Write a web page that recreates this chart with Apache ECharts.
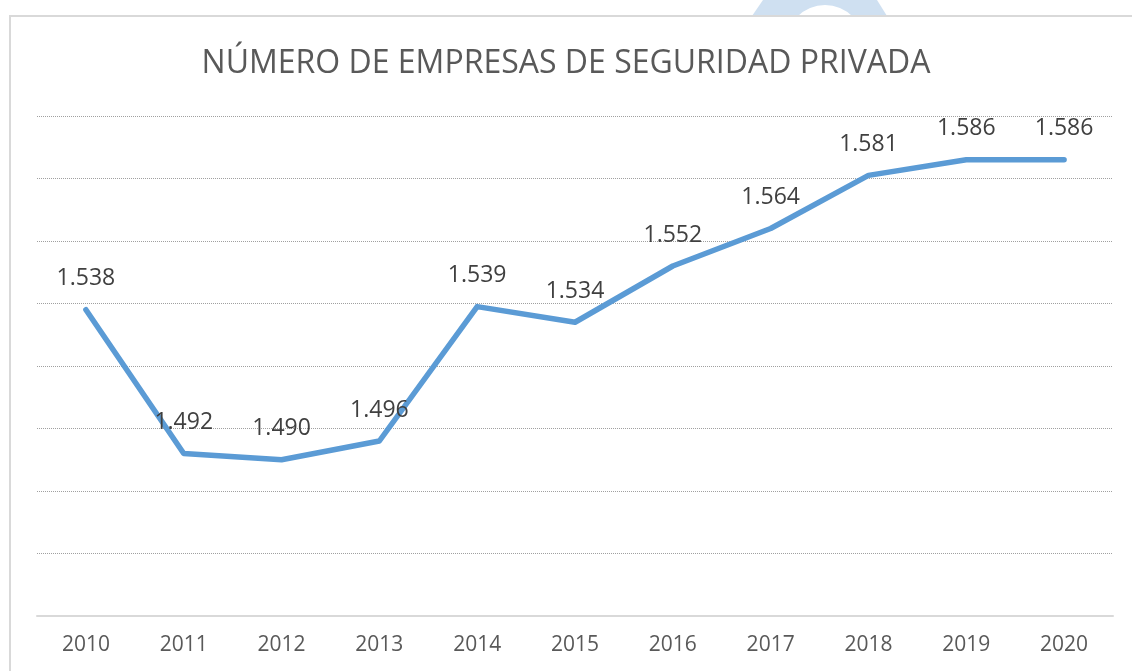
<!DOCTYPE html>
<html>
<head>
<meta charset="utf-8">
<script src="https://cdn.jsdelivr.net/npm/echarts@6/dist/echarts.min.js"></script>
<style>
  html, body { margin: 0; padding: 0; background: #fff; }
  #chart { width: 1132px; height: 671px; }
</style>
</head>
<body>
<div id="chart"></div>
<script>
// datos
var years = ["2010", "2011", "2012", "2013", "2014", "2015", "2016", "2017", "2018", "2019", "2020"];
var empresas = [1.538, 1.492, 1.490, 1.496, 1.539, 1.534, 1.552, 1.564, 1.581, 1.586, 1.586];
var yMin = 1.44, yMax = 1.6, yStep = 0.02;

var myChart = echarts.init(document.getElementById("chart"));
myChart.setOption({
  backgroundColor: "#fff",
  animation: false,
  // marco y mancha azul de arriba
  graphic: [
    { type: "polygon", z: -10, shape: { points: [[752, 16], [763, 0], [877, 0], [887, 16]] }, style: { fill: "#cfe0f1" } },
    { type: "circle", z: -9, shape: { cx: 825, cy: 44, r: 39 }, style: { fill: "#fff" } },
    { type: "rect", z: -8, shape: { x: 10, y: 16, width: 1140, height: 700 }, style: { fill: "none", stroke: "#d9d9d9", lineWidth: 2 } }
  ],
  title: {
    text: "NÚMERO DE EMPRESAS DE SEGURIDAD PRIVADA",
    left: "center",
    top: 43,
    textStyle: { fontFamily: "Open Sans", fontWeight: "normal", fontSize: 32, color: "#595959" }
  },
  grid: { left: 37, right: 19, top: 116, bottom: 55 },
  xAxis: {
    type: "category",
    data: years,
    boundaryGap: true,
    axisLine: { lineStyle: { color: "#d9d9d9", width: 2 } },
    axisTick: { show: false },
    axisLabel: { fontFamily: "Open Sans", fontSize: 21, color: "#595959", margin: 19 }
  },
  yAxis: {
    type: "value",
    min: yMin,
    max: yMax,
    interval: yStep,
    axisLabel: { show: false },
    axisLine: { show: false },
    axisTick: { show: false },
    splitLine: { lineStyle: { type: "dotted", color: "#a0a0a0", width: 1 } }
  },
  series: [
    {
      name: "Empresas",
      type: "line",
      data: empresas,
      symbol: "circle",
      symbolSize: 1,
      itemStyle: { color: "#5b9bd5" },
      lineStyle: { color: "#5b9bd5", width: 5.5, cap: "round", join: "round" },
      label: {
        show: true,
        position: "top",
        distance: 19,
        fontFamily: "Open Sans",
        fontSize: 23,
        color: "#404040",
        formatter: function (p) { return p.value.toFixed(3); }
      }
    }
  ]
});
</script>
</body>
</html>
